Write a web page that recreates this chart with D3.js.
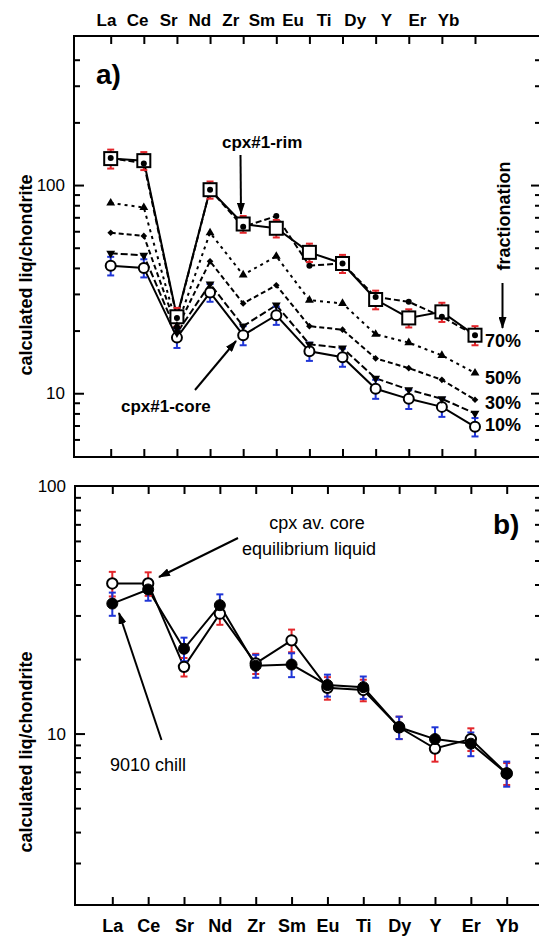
<!DOCTYPE html>
<html>
<head>
<meta charset="utf-8">
<script src="https://cdn.jsdelivr.net/npm/d3@7"></script>
<style>
body{margin:0;background:#fff;}
svg{display:block;font-family:"Liberation Sans",Arial,Helvetica,sans-serif;}
</style>
</head>
<body>
<script>
// element order along the x axis
var elements = ["La","Ce","Sr","Nd","Zr","Sm","Eu","Ti","Dy","Y","Er","Yb"];

// panel a) calculated liquids
var rim     = [134, 131, 23.3, 95, 65, 62, 47.5, 42, 28.2, 23, 24.6, 19];
var rimErr  = [14, 13, 2.4, 9, 6, 6, 4.8, 4.2, 2.9, 2.3, 2.6, 2];
var core    = [41, 40, 18.5, 30.5, 19, 23.7, 15.9, 14.9, 10.5, 9.4, 8.6, 6.9];
var coreErr = [4.2, 4, 2, 3, 2, 2.4, 1.6, 1.5, 1.1, 1, 0.9, 0.7];
var frac70  = [135, 127, 23, 95, 63, 71, 41, 42, 29, 27.5, 23.3, 19];
var frac50  = [82, 78, 21, 59, 37, 45.5, 28, 27, 19.2, 17.5, 15.2, 12.5];
var frac30  = [59, 57, 20.5, 43, 27, 33, 21, 20.2, 14.7, 13.2, 11.6, 9.3];
var frac10  = [47, 46, 19.5, 33.5, 21, 26.5, 17.2, 16.5, 11.8, 10.4, 9.4, 8.0];
var fracLabels = ["70%", "50%", "30%", "10%"];

// panel b) av. core equilibrium liquid vs 9010 chill
var eqLiquid = [40.4, 40.4, 18.6, 30.5, 19.2, 23.8, 15.3, 15.0, 10.6, 8.7, 9.5, 6.9];
var eqErr    = [4.6, 4.4, 1.6, 3, 1.8, 2.5, 1.6, 1.5, 1.1, 1.0, 1.0, 0.7];
var chill    = [33.5, 38.2, 22.0, 33, 18.8, 19.0, 15.7, 15.4, 10.6, 9.5, 9.1, 6.9];
var chillErr = [3.6, 3.8, 2.4, 3.5, 2, 2.1, 1.6, 1.6, 1.1, 1.1, 1.0, 0.8];

var yTickLabels = [10, 100];

var W = 539, H = 936;
var RED = "#e3262b", BLUE = "#1f35d6";

var svg = d3.select("body").append("svg")
	.attr("width", W)
	.attr("height", H);

// arrow head
svg.append("defs").append("marker")
	.attr("id", "arrow")
	.attr("markerUnits", "userSpaceOnUse")
	.attr("markerWidth", 12).attr("markerHeight", 8)
	.attr("refX", 11).attr("refY", 4)
	.attr("orient", "auto")
	.append("path").attr("d", "M0,0L12,4L0,8Z").attr("fill", "#000");

// panel boxes
var boxA = {left: 74, top: 36, right: 541, bottom: 457};
var boxB = {left: 75, top: 486, right: 541, bottom: 905};

var xA = d3.scalePoint().domain(elements).range([110.7, 475]);
var yA = d3.scaleLog().domain([4.94, 520]).range([boxA.bottom, boxA.top]);
var xB = d3.scalePoint().domain(elements).range([112.3, 506.7]);
var yB = d3.scaleLog().domain([2.03, 100]).range([boxB.bottom, boxB.top]);

// separate label row above panel a
var xLabelsTop = d3.scalePoint().domain(elements).range([106, 448]);

function isMajor(v) {
	return Math.abs(Math.log10(v) - Math.round(Math.log10(v))) < 1e-6;
}

function drawFrame(box, x, y) {
	var g = svg.append("g");
	g.append("rect")
		.attr("x", box.left).attr("y", box.top)
		.attr("width", box.right - box.left)
		.attr("height", box.bottom - box.top)
		.attr("fill", "none").attr("stroke", "#000").attr("stroke-width", 2);

	// x ticks on top and bottom borders, pointing inward
	g.append("g").attr("class", "xt")
		.attr("transform", "translate(0," + box.top + ")")
		.call(d3.axisBottom(x).tickSize(8).tickFormat(""));
	g.append("g").attr("class", "xt")
		.attr("transform", "translate(0," + box.bottom + ")")
		.call(d3.axisTop(x).tickSize(8).tickFormat(""));

	// log ticks on left and right borders
	var ticks = y.ticks().filter(function(v) {
		return y(v) > box.top + 5 && y(v) < box.bottom - 5;
	});
	g.append("g").attr("class", "yl")
		.attr("transform", "translate(" + box.left + ",0)")
		.call(d3.axisRight(y).tickValues(ticks).tickSize(6).tickFormat(""));
	g.append("g").attr("class", "yr")
		.attr("transform", "translate(" + box.right + ",0)")
		.call(d3.axisLeft(y).tickValues(ticks).tickSize(6).tickFormat(""));

	g.selectAll(".domain").remove();
	g.selectAll(".tick line").attr("stroke", "#000").attr("stroke-width", 2);
	g.selectAll(".yl .tick line").filter(isMajor).attr("x2", 10);
	g.selectAll(".yr .tick line").filter(isMajor).attr("x2", -10);

	// y tick labels
	g.selectAll(".ylab")
		.data(yTickLabels)
		.enter().append("text")
		.attr("x", box.left - 9)
		.attr("y", function(d) { return y(d); })
		.attr("dy", "0.35em")
		.attr("text-anchor", "end")
		.style("font-size", "17px")
		.text(function(d) { return d; });

	// y axis title
	svg.append("text")
		.attr("transform", "translate(26," + box.labelY + ") rotate(-90)")
		.attr("text-anchor", "middle")
		.attr("dy", "0.35em")
		.style("font-size", "18px").style("font-weight", "bold")
		.text("calculated liq/chondrite");
}

function drawLine(x, y, vals, dash, width) {
	var line = d3.line()
		.x(function(d, i) { return x(elements[i]); })
		.y(function(d) { return y(d); });
	svg.append("path")
		.datum(vals)
		.attr("d", line)
		.attr("fill", "none")
		.attr("stroke", "#000")
		.attr("stroke-width", width || 2)
		.attr("stroke-dasharray", dash || null);
}

function drawErrors(x, y, vals, errs, color) {
	var g = svg.append("g").attr("stroke", color).attr("stroke-width", 2);
	vals.forEach(function(v, i) {
		var cx = x(elements[i]), y0 = y(v - errs[i]), y1 = y(v + errs[i]);
		g.append("line").attr("x1", cx).attr("x2", cx).attr("y1", y0).attr("y2", y1);
		g.append("line").attr("x1", cx - 3.5).attr("x2", cx + 3.5).attr("y1", y0).attr("y2", y0);
		g.append("line").attr("x1", cx - 3.5).attr("x2", cx + 3.5).attr("y1", y1).attr("y2", y1);
	});
}

function drawSymbols(x, y, vals, type, size, rot, fill) {
	svg.append("g").selectAll("path")
		.data(vals)
		.enter().append("path")
		.attr("d", d3.symbol().type(type).size(size))
		.attr("transform", function(d, i) {
			return "translate(" + x(elements[i]) + "," + y(d) + ") rotate(" + rot + ")";
		})
		.attr("fill", fill);
}

function drawCircles(x, y, vals, r, fill, sw) {
	svg.append("g").selectAll("circle")
		.data(vals)
		.enter().append("circle")
		.attr("cx", function(d, i) { return x(elements[i]); })
		.attr("cy", function(d) { return y(d); })
		.attr("r", r)
		.attr("fill", fill)
		.attr("stroke", "#000")
		.attr("stroke-width", sw);
}

function arrow(x1, y1, x2, y2) {
	svg.append("line")
		.attr("x1", x1).attr("y1", y1).attr("x2", x2).attr("y2", y2)
		.attr("stroke", "#000").attr("stroke-width", 2)
		.attr("marker-end", "url(#arrow)");
}

function label(txt, x, y, size, bold, anchor) {
	return svg.append("text")
		.attr("x", x).attr("y", y)
		.attr("text-anchor", anchor || "start")
		.style("font-size", size + "px")
		.style("font-weight", bold ? "bold" : "normal")
		.text(txt);
}

/******** PANEL A ************/
boxA.labelY = 275;
drawFrame(boxA, xA, yA);

// element names above the panel
svg.append("g")
	.attr("transform", "translate(0,20)")
	.call(d3.axisTop(xLabelsTop).tickSize(0).tickPadding(0))
	.call(function(g) { g.select(".domain").remove(); })
	.selectAll("text")
	.attr("dy", "0.35em")
	.style("font-size", "17px").style("font-weight", "bold")
	.attr("fill", "#000")
	.style("font-family", "'Liberation Sans',Arial,sans-serif");

drawLine(xA, yA, frac10, "7,3");
drawLine(xA, yA, frac30, "5,3");
drawLine(xA, yA, frac50, "3,4");
drawLine(xA, yA, frac70, "6,3");
drawLine(xA, yA, core);
drawLine(xA, yA, rim);

drawErrors(xA, yA, rim, rimErr, RED);
drawErrors(xA, yA, core, coreErr, BLUE);

// rim squares
svg.append("g").selectAll("rect")
	.data(rim)
	.enter().append("rect")
	.attr("x", function(d, i) { return xA(elements[i]) - 6.5; })
	.attr("y", function(d) { return yA(d) - 6.5; })
	.attr("width", 13).attr("height", 13)
	.attr("fill", "#fff").attr("stroke", "#000").attr("stroke-width", 2);

drawCircles(xA, yA, core, 5, "#fff", 2);
drawSymbols(xA, yA, frac50, d3.symbolTriangle, 34, 0, "#000");
drawSymbols(xA, yA, frac30, d3.symbolSquare, 22, 45, "#000");
drawSymbols(xA, yA, frac10, d3.symbolTriangle, 34, 180, "#000");
drawCircles(xA, yA, frac70, 3, "#000", 0);

label("a)", 96, 84, 28, true);
label("cpx#1-rim", 222, 148, 17, true);
arrow(240.5, 155, 241, 214);
label("cpx#1-core", 121, 412, 17, true);
arrow(195, 390, 236, 341);

svg.append("text")
	.attr("transform", "translate(504,216) rotate(-90)")
	.attr("text-anchor", "middle")
	.attr("dy", "0.35em")
	.style("font-size", "18px").style("font-weight", "bold")
	.text("fractionation");
arrow(502.5, 283, 502.5, 328);

var fracLabelY = [341, 378, 403, 425];
fracLabels.forEach(function(t, i) {
	label(t, 485, fracLabelY[i], 18, true).attr("dy", "0.35em");
});

/******** PANEL B ************/
boxB.labelY = 752;
drawFrame(boxB, xB, yB);

svg.append("g")
	.attr("transform", "translate(0,926)")
	.call(d3.axisBottom(xB).tickSize(0).tickPadding(0))
	.call(function(g) { g.select(".domain").remove(); })
	.selectAll("text")
	.attr("dy", "0.35em")
	.style("font-size", "18px").style("font-weight", "bold")
	.attr("fill", "#000")
	.style("font-family", "'Liberation Sans',Arial,sans-serif");

drawLine(xB, yB, eqLiquid);
drawLine(xB, yB, chill);
drawErrors(xB, yB, eqLiquid, eqErr, RED);
drawErrors(xB, yB, chill, chillErr, BLUE);
drawCircles(xB, yB, eqLiquid, 5.2, "#fff", 2);
drawCircles(xB, yB, chill, 5.5, "#000", 1);

label("b)", 493, 534, 28, true);
label("cpx av. core", 317, 529, 18, false, "middle");
label("equilibrium liquid", 309, 555, 18, false, "middle");
arrow(238, 538, 159, 577);
label("9010 chill", 110, 771, 18, false);
arrow(161.5, 740, 119, 613);
</script>
</body>
</html>
